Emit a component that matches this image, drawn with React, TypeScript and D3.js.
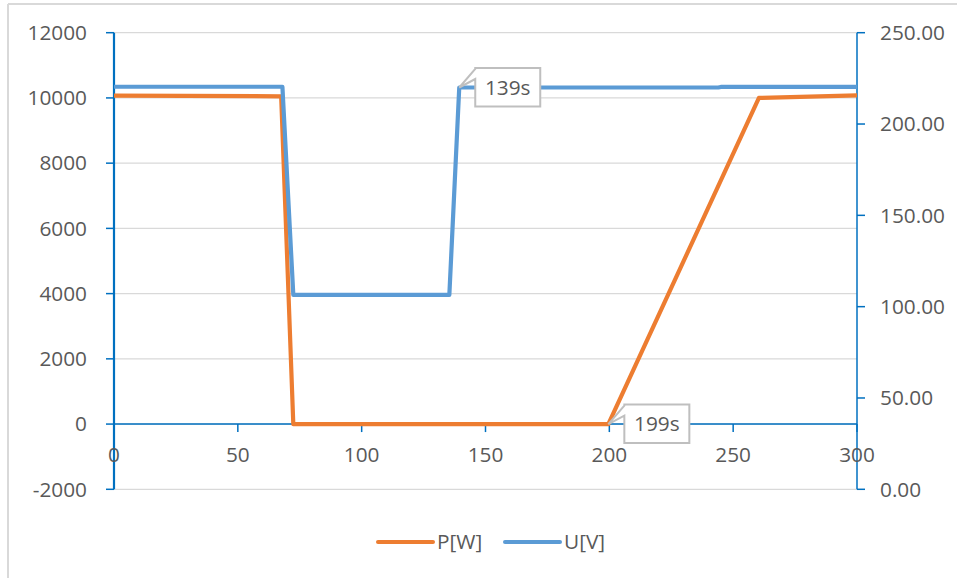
import React from "react";
import * as d3 from "d3";

// ---- data ----
const powerTime = [0, 67.5, 72.4, 199.6, 260.4, 300];
const powerW = [10070, 10050, 0, 0, 10000, 10080];

const voltTime = [0, 68, 72.4, 135.4, 139.4, 244, 245, 300];
const voltV = [220.4, 220.4, 106.4, 106.4, 220.0, 220.0, 220.3, 220.3];

const leftTicks = [-2000, 0, 2000, 4000, 6000, 8000, 10000, 12000];
const rightTicks = [0, 50, 100, 150, 200, 250];
const xTicks = [0, 50, 100, 150, 200, 250, 300];

const callouts = [
  { label: "139s", t: 139.4, v: 220.0, axis: "right" },
  { label: "199s", t: 199.6, v: 0, axis: "left" },
];

const seriesNames = ["P[W]", "U[V]"];
const seriesColors = ["#ed7d31", "#5b9bd5"];

const W = 957;
const H = 578;
const plot = { left: 114, right: 857, top: 32.7, bottom: 489.3 };
const AXIS = "#0070c0";
const GRID = "#d9d9d9";
const TEXT = "#595959";
const FONT = "'Open Sans', sans-serif";
const FS = 20.8;

export default function App() {
  const x = d3.scaleLinear().domain([0, 300]).range([plot.left, plot.right]);
  const yL = d3.scaleLinear().domain([-2000, 12000]).range([plot.bottom, plot.top]);
  const yR = d3.scaleLinear().domain([0, 250]).range([plot.bottom, plot.top]);

  const pLine = d3
    .line<number>()
    .x((_, i) => x(powerTime[i]))
    .y((d) => yL(d))(powerW) as string;
  const uLine = d3
    .line<number>()
    .x((_, i) => x(voltTime[i]))
    .y((d) => yR(d))(voltV) as string;

  const y0 = yL(0);

  return (
    <svg
      width={W}
      height={H}
      style={{ position: "absolute", left: 0, top: 0, display: "block" }}
      fontFamily={FONT}
    >
      <rect x={0} y={0} width={W} height={H} fill="#fff" />
      {/* outer border (top + left) */}
      <line x1={8} y1={4} x2={W} y2={4} stroke={GRID} strokeWidth={2} />
      <line x1={8} y1={4} x2={8} y2={H} stroke={GRID} strokeWidth={2} />

      {/* gridlines */}
      {leftTicks.map((t) => (
        <line
          key={"g" + t}
          x1={plot.left}
          x2={plot.right}
          y1={yL(t)}
          y2={yL(t)}
          stroke={GRID}
          strokeWidth={1.2}
        />
      ))}

      {/* x axis at zero */}
      <line x1={plot.left} x2={plot.right} y1={y0} y2={y0} stroke={AXIS} strokeWidth={1.5} />
      {xTicks.map((t) => (
        <line key={"xt" + t} x1={x(t)} x2={x(t)} y1={y0} y2={y0 + 8} stroke={AXIS} strokeWidth={1.5} />
      ))}

      {/* left axis */}
      <line x1={plot.left} x2={plot.left} y1={plot.top} y2={plot.bottom} stroke={AXIS} strokeWidth={2.2} />
      {leftTicks.map((t) => (
        <g key={"l" + t}>
          <line x1={plot.left - 8} x2={plot.left} y1={yL(t)} y2={yL(t)} stroke={AXIS} strokeWidth={1.5} />
          <text x={87} y={yL(t)} dy="0.35em" textAnchor="end" fontSize={FS} fill={TEXT}>
            {String(t)}
          </text>
        </g>
      ))}

      {/* right axis */}
      <line x1={plot.right} x2={plot.right} y1={plot.top} y2={plot.bottom} stroke={AXIS} strokeWidth={1.5} />
      {rightTicks.map((t) => (
        <g key={"r" + t}>
          <line x1={plot.right} x2={plot.right + 8} y1={yR(t)} y2={yR(t)} stroke={AXIS} strokeWidth={1.5} />
          <text x={880} y={yR(t)} dy="0.35em" textAnchor="start" fontSize={FS} fill={TEXT}>
            {t.toFixed(2)}
          </text>
        </g>
      ))}

      {/* series */}
      <path d={pLine} fill="none" stroke={seriesColors[0]} strokeWidth={4.2} strokeLinejoin="round" />
      <path d={uLine} fill="none" stroke={seriesColors[1]} strokeWidth={4.2} strokeLinejoin="round" />

      {/* x tick labels */}
      {xTicks.map((t) => (
        <text key={"xl" + t} x={x(t)} y={455} dy="0.35em" textAnchor="middle" fontSize={FS} fill={TEXT}>
          {t}
        </text>
      ))}

      {/* callouts */}
      {callouts.map((c) => {
        const px = x(c.t);
        const py = c.axis === "right" ? yR(c.v) : yL(c.v);
        const bx = px + 16;
        const by = py - 19.5;
        const bw = 65;
        const bh = 38.5;
        const d = `M${bx},${by} L${bx + bw},${by} L${bx + bw},${by + bh} L${bx},${by + bh} L${bx},${by + 11} L${px},${py} L${bx},${by + 1} Z`;
        return (
          <g key={c.label}>
            <path d={d} fill="#fff" stroke="#bfbfbf" strokeWidth={2} strokeLinejoin="miter" />
            <text x={bx + bw / 2} y={by + bh / 2} dy="0.35em" textAnchor="middle" fontSize={FS} fill={TEXT}>
              {c.label}
            </text>
          </g>
        );
      })}

      {/* legend */}
      {seriesNames.map((n, i) => {
        const lx = 378 + i * 127;
        return (
          <g key={n}>
            <line x1={lx} x2={lx + 55} y1={542} y2={542} stroke={seriesColors[i]} strokeWidth={4} strokeLinecap="round" />
            <text x={lx + 59} y={542} dy="0.35em" fontSize={FS} fill={TEXT}>
              {n}
            </text>
          </g>
        );
      })}
    </svg>
  );
}
